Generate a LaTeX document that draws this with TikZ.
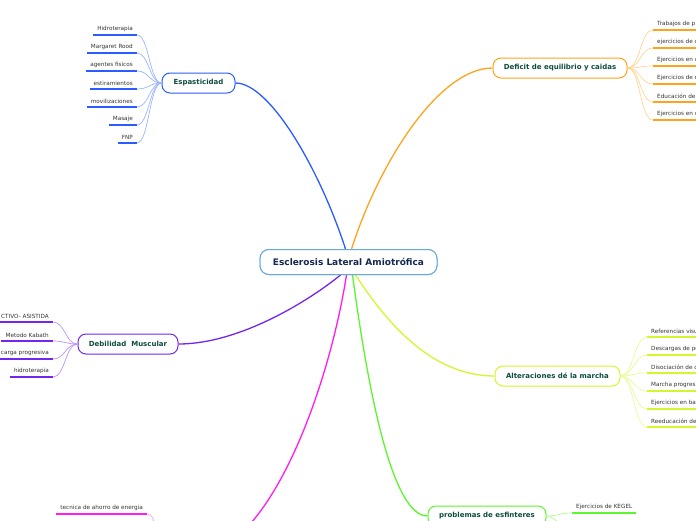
\documentclass[tikz,border=0pt]{standalone}
\usepackage{fontspec}
\setmainfont{DejaVu Sans}
\definecolor{rootc}{HTML}{66AADD}
\definecolor{roottxt}{HTML}{15284F}
\definecolor{brtxt}{HTML}{0D4D3D}
\definecolor{leaftxt}{HTML}{333333}
\definecolor{bluec}{HTML}{2A5CFF}
\definecolor{bluel}{HTML}{9AB5FF}
\definecolor{orangec}{HTML}{FFA31C}
\definecolor{orangel}{HTML}{FFD596}
\definecolor{purplec}{HTML}{7426F0}
\definecolor{purplel}{HTML}{B995FA}
\definecolor{yellowc}{HTML}{D6F52E}
\definecolor{yellowl}{HTML}{EBFA9A}
\definecolor{greenc}{HTML}{5CF52E}
\definecolor{greenl}{HTML}{B0FA95}
\definecolor{magc}{HTML}{FF1CF5}
\definecolor{magl}{HTML}{FF9CF8}
\begin{document}
\begin{tikzpicture}[x=1pt,y=-1pt,
  root/.style={draw=rootc, line width=1pt, rounded corners=9pt, fill=white, minimum width=177pt, minimum height=25pt, inner sep=0pt, font=\fontsize{9}{10}\selectfont\bfseries, text=roottxt},
  branch/.style={draw=#1, line width=1pt, rounded corners=8pt, fill=white, minimum height=20pt, inner sep=0pt, font=\fontsize{7}{8}\selectfont\bfseries, text=brtxt},
  leafL/.style={anchor=south east, inner xsep=4pt, inner ysep=3pt, font=\fontsize{5.7}{6.5}\selectfont, text=leaftxt},
  leafR/.style={anchor=south west, inner xsep=4pt, inner ysep=3pt, font=\fontsize{5.7}{6.5}\selectfont, text=leaftxt},
  ul/.style={draw=#1, line width=1.5pt},
  twig/.style={draw=#1, line width=0.7pt},
  limb/.style={draw=#1, line width=1.3pt}
]
\useasboundingbox (0,0) rectangle (696,520);

% main and branch nodes
\node[root] (C) at (348.5,262) {Esclerosis Lateral Amiotrófica};
\node[branch=bluec, minimum width=73pt] (E) at (198.5,83) {Espasticidad};
\node[branch=orangec, minimum width=134pt] (D) at (560,68) {Deficit de equilibrio y caidas};
\node[branch=purplec, minimum width=100pt] (B) at (128,344) {Debilidad\ \ Muscular};
\node[branch=yellowc, minimum width=125pt] (A) at (557.5,376) {Alteraciones dé la marcha};
\node[branch=greenc, minimum width=118pt] (P) at (487,516) {problemas de esfinteres};
\coordinate (M) at (218,550);
\coordinate (Mleft) at (165,548);
\coordinate (Pdown) at (578,540);

% limbs
\draw[limb=bluec] ([xshift=-3pt]C.north) .. controls (320,170) and (270,83) .. (E.east);
\draw[limb=orangec] ([xshift=3pt]C.north) .. controls (380,160) and (440,68) .. (D.west);
\draw[limb=purplec] ([xshift=-8pt]C.south) .. controls (310,300) and (240,344) .. (B.east);
\draw[limb=magc] ([xshift=-2pt]C.south) .. controls (330,380) and (280,520) .. (M);
\draw[limb=greenc] ([xshift=4pt]C.south) .. controls (368,390) and (392,516) .. (P.west);
\draw[limb=yellowc] ([xshift=7pt]C.south) .. controls (385,320) and (430,376) .. (A.west);

% Espasticidad leaves
\foreach \n/\y/\t in {e1/35/Hidroterapia, e2/53/Margaret Rood, e3/71/agentes fisicos, e4/89/estiramientos, e5/107/movilizaciones, e6/125/Masaje, e7/143/FNP}{
  \node[leafL] (\n) at (137,\y) {\t};
  \draw[ul=bluec] (\n.south west) -- (\n.south east);
  \draw[twig=bluel] (E.west) .. controls +(-12,0) and +(12,0) .. (\n.south east);
}

% Deficit leaves
\foreach \n/\y/\t in {d1/30/Trabajos de p, d2/48/ejercicios de c, d3/66/Ejercicios en c, d4/84/Ejercicios de r, d5/102/Educación de, d6/120/Ejercicios en c}{
  \node[leafR] (\n) at (653,\y) {\t};
  \draw[ul=orangec] (\n.south west) -- ++(60,0);
  \draw[twig=orangel] (D.east) .. controls +(13,0) and +(-13,0) .. (\n.south west);
}

% Debilidad leaves
\foreach \n/\y/\t in {b1/322/CTIVO- ASISTIDA, b2/341/Metodo Kabath, b3/359/e carga progresiva, b4/377/hidroterapia}{
  \node[leafL] (\n) at (53,\y) {\t};
  \draw[ul=purplec] (\n.south west) -- (\n.south east);
  \draw[twig=purplel] (B.west) .. controls +(-12,0) and +(12,0) .. (\n.south east);
}

% Alteraciones leaves
\foreach \n/\y/\t in {a1/337/Referencias visu, a2/355/Descargas de pe, a3/373/Disociación de ci, a4/391/Marcha progresi, a5/409/Ejercicios en bar, a6/427/Reeducación de}{
  \node[leafR] (\n) at (647,\y) {\t};
  \draw[ul=yellowc] (\n.south west) -- ++(60,0);
  \draw[twig=yellowl] (A.east) .. controls +(13,0) and +(-13,0) .. (\n.south west);
}

% problemas leaves
\node[leafR] (p1) at (572,513) {Ejercicios de KEGEL};
\draw[ul=greenc] (p1.south west) -- (p1.south east);
\draw[twig=greenl] (P.east) .. controls +(13,0) and +(-13,0) .. (p1.south west);
\draw[twig=greenl] (P.east) .. controls +(13,0) and +(-13,0) .. (Pdown);

% magenta leaf
\node[leafL] (m1) at (147,514) {tecnica de ahorro de energia};
\draw[ul=magc] (m1.south west) -- (m1.south east);
\draw[twig=magl] (m1.south east) .. controls +(12,0) and +(-12,0) .. (Mleft);

% redraw root on top
\node[root] at (C) {Esclerosis Lateral Amiotrófica};
\end{tikzpicture}
\end{document}
